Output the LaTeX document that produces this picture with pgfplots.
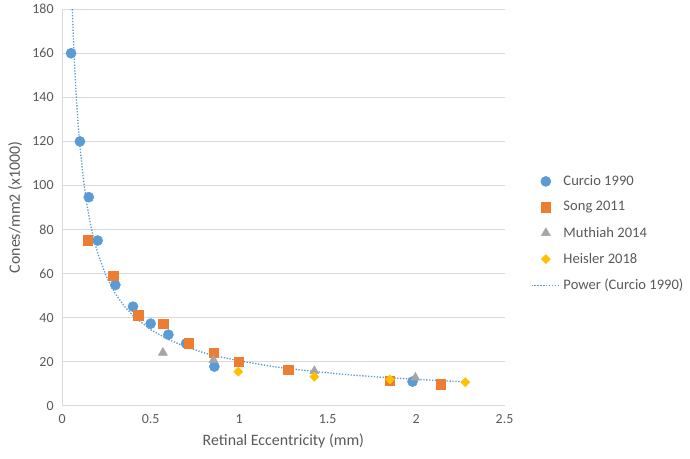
\documentclass[border=0pt]{standalone}
\usepackage{pgfplots}
\pgfplotsset{compat=1.18}
\usepackage{fontspec}
\setmainfont{Carlito}
\definecolor{cBlue}{HTML}{5B9BD5}
\definecolor{cOrange}{HTML}{ED7D31}
\definecolor{cGray}{HTML}{A5A5A5}
\definecolor{cGold}{HTML}{FFC000}
\definecolor{txt}{HTML}{595959}
\definecolor{gridc}{HTML}{D9D9D9}
\begin{document}
\begin{tikzpicture}
\begin{axis}[
  at={(0,0)}, anchor=south west,
  scale only axis, width=334pt, height=299.5pt,
  xmin=0, xmax=2.5, ymin=0, ymax=180,
  xtick={0,0.5,1,1.5,2,2.5},
  ytick={0,20,40,60,80,100,120,140,160,180},
  xticklabels={0,0.5,1,1.5,2,2.5},
  /pgf/number format/assume math mode=true,
  tick style={draw=none},
  ymajorgrids, major grid style={gridc, line width=0.75pt},
  axis x line*=bottom, axis y line*=left,
  axis line style={gridc, line width=0.75pt, -},
  ticklabel style={font=\fontsize{10.5}{12}\selectfont, text=txt},
  xticklabel style={yshift=-3pt},
  yticklabel style={xshift=-3pt},
  xlabel={Retinal Eccentricity (mm)},
  ylabel={Cones/mm2 (x1000)},
  label style={font=\fontsize{12}{14}\selectfont, text=txt},
  xlabel style={yshift=-1pt},
  ylabel style={yshift=1pt},
  clip=false,
  legend cell align=left,
  legend style={draw=none, fill=none, at={(1.05,0.595)}, anchor=north west,
    font=\fontsize{11}{12}\selectfont, text=txt, row sep=6.6pt,
    /tikz/every even column/.append style={column sep=2pt}},
  legend image code/.code={\draw[mark repeat=2,mark phase=2,#1] plot coordinates {(0cm,0cm) (0.38cm,0cm) (0.76cm,0cm)};},
]
\addplot[only marks, mark=*, mark size=3.8pt, cBlue, mark options={fill=cBlue, draw=cBlue}] coordinates {
 (0.05,160) (0.1,120) (0.15,94.7) (0.2,75) (0.3,54.8) (0.4,45) (0.5,37.3) (0.6,32.3) (0.7,28.3) (0.86,17.8) (1.98,11)
};
\addlegendentry{Curcio 1990}
\addplot[only marks, mark=square*, mark size=3.6pt, cOrange, mark options={fill=cOrange, draw=cOrange}] coordinates {
 (0.144,75.1) (0.288,59.1) (0.43,41.1) (0.57,37.3) (0.714,28.3) (0.857,24.1) (0.997,20.0) (1.279,16.3) (1.852,11.3) (2.14,9.8)
};
\addlegendentry{Song 2011}
\addplot[only marks, mark=triangle*, mark size=3.9pt, cGray, mark options={fill=cGray, draw=cGray}] coordinates {
 (0.569,24.1) (0.855,20.8) (1.425,15.8) (1.996,12.8)
};
\addlegendentry{Muthiah 2014}
\addplot[only marks, mark=square*, mark size=2.4pt, cGold, mark options={fill=cGold, draw=cGold, rotate=45}] coordinates {
 (0.995,15.5) (1.425,13.2) (1.852,12.0) (2.278,10.7)
};
\addlegendentry{Heisler 2018}
\addplot[cBlue, line width=1pt, dash pattern=on 1pt off 1.2pt] coordinates {
 (0.0572,180) (0.06,173.5) (0.065,163.2) (0.07,154.3) (0.08,139.4) (0.09,127.5) (0.1,117.7)
 (0.12,102.4) (0.14,91.0) (0.16,82.3) (0.18,75.2) (0.2,69.4) (0.25,58.5) (0.3,50.9)
 (0.35,45.3) (0.4,40.9) (0.5,34.5) (0.6,30.1) (0.7,26.7) (0.8,24.1) (0.9,22.1) (1.0,20.4)
 (1.2,17.7) (1.4,15.8) (1.6,14.2) (1.8,13.0) (2.0,12.0) (2.3,10.8)
};
\addlegendentry{Power (Curcio 1990)}
\end{axis}
\useasboundingbox (-47pt,-39.45pt) rectangle (470.5pt,303.25pt);
\end{tikzpicture}
\end{document}
